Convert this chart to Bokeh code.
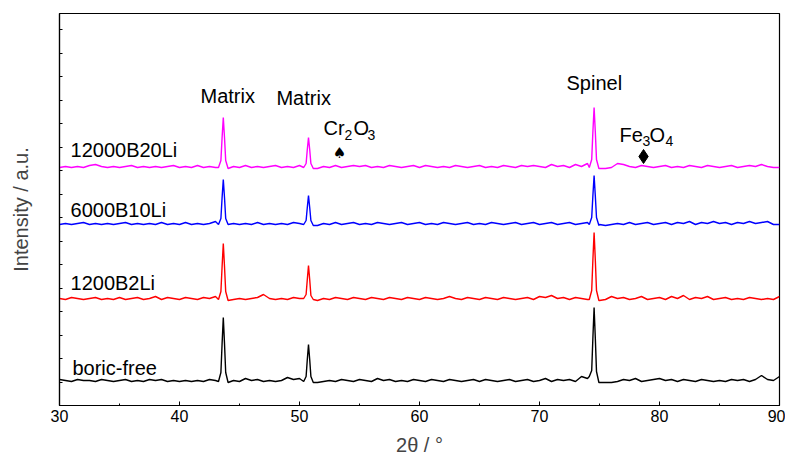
import numpy as np
from bokeh.plotting import figure
from bokeh.models import Range1d, FixedTicker
from bokeh.core.properties import value
from bokeh.embed import file_html
from bokeh.resources import INLINE

FONT = "Liberation Sans"

# ---------------- data ----------------
two_theta_start = 30.0
two_theta_step = 0.5
peak_centers = [43.65, 50.75, 74.55]
peak_offsets = [-0.4, -0.2, -0.1, 0.0, 0.1, 0.2, 0.4]

sample_names = ["boric-free", "1200B2Li", "6000B10Li", "12000B20Li"]
sample_colors = ["#000000", "#FF0000", "#0000FF", "#FF00FF"]
baselines = [23, 105, 180, 237]   # vertical offset of each pattern (a.u.)

black_noise = [3, 2, 1, 3, 2, 2, 1, 3, 2, 1,
               2, 3, 1, 2, 1, 3, 2, 3, 1, 2,
               1, 2, 1, 2, 1, 3, 2, 0, 0, 2,
               1, 4, 2, 3, 1, 2, 1, 2, 5, 3,
               4, 1, 0, 0, 1, 2, 1, 3, 2, 1,
               3, 2, 1, 4, 2, 3, 1, 2, 1, 3,
               2, 1, 3, 2, 1, 3, 2, 1, 2, 3,
               1, 3, 2, 1, 2, 3, 1, 2, 3, 1,
               2, 4, 1, 3, 2, 3, 1, 6, 4, 0,
               0, 0, 0, 1, 3, 2, 4, 1, 2, 3,
               4, 2, 3, 1, 3, 2, 1, 3, 2, 1,
               2, 1, 3, 2, 3, 1, 3, 7, 3, 2,
               6]
red_noise = [2, 1, 3, 2, 1, 2, 3, 1, 2, 1,
             3, 1, 2, 3, 1, 2, 4, 1, 3, 2,
             1, 3, 2, 1, 3, 2, 4, 1, 0, 1,
             2, 1, 2, 3, 6, 2, 1, 2, 1, 3,
             2, 3, 0, 0, 2, 1, 3, 2, 1, 3,
             2, 1, 3, 2, 1, 3, 2, 1, 3, 2,
             1, 3, 2, 1, 2, 4, 2, 1, 3, 2,
             1, 3, 2, 1, 3, 2, 1, 2, 3, 1,
             4, 3, 5, 2, 3, 1, 3, 2, 1, 0,
             0, 1, 4, 2, 3, 1, 2, 4, 1, 2,
             3, 1, 4, 2, 5, 1, 3, 2, 4, 1,
             2, 3, 1, 2, 1, 3, 2, 1, 2, 1,
             4]
blue_noise = [1, 2, 1, 2, 3, 1, 2, 1, 2, 1,
              2, 3, 1, 2, 1, 2, 1, 3, 1, 2,
              1, 3, 1, 2, 1, 2, 4, 1, 0, 2,
              1, 2, 1, 3, 1, 2, 1, 2, 1, 3,
              2, 1, 0, 0, 2, 1, 3, 1, 2, 3,
              1, 2, 1, 3, 2, 1, 2, 3, 1, 2,
              3, 1, 2, 1, 3, 2, 1, 2, 3, 1,
              2, 1, 3, 2, 1, 2, 3, 1, 2, 3,
              1, 2, 3, 1, 2, 3, 1, 2, 3, 2,
              1, 0, 1, 2, 1, 3, 1, 2, 3, 1,
              2, 3, 1, 3, 2, 4, 1, 3, 2, 4,
              2, 3, 1, 3, 2, 4, 2, 3, 4, 1,
              1]
magenta_noise = [1, 2, 1, 2, 1, 3, 4, 2, 1, 2,
                 1, 2, 3, 1, 2, 1, 2, 1, 2, 3,
                 1, 2, 1, 3, 1, 2, 1, 2, 0, 2,
                 1, 3, 1, 2, 1, 2, 3, 1, 2, 1,
                 3, 2, 0, 0, 2, 1, 3, 1, 2, 3,
                 2, 3, 1, 2, 1, 3, 2, 1, 2, 3,
                 1, 3, 2, 1, 2, 1, 3, 2, 1, 2,
                 3, 1, 2, 1, 3, 2, 1, 3, 2, 3,
                 2, 1, 4, 2, 3, 1, 4, 2, 5, 2,
                 0, 0, 1, 5, 4, 2, 1, 3, 2, 1,
                 2, 3, 1, 2, 1, 3, 2, 1, 3, 2,
                 1, 2, 3, 1, 2, 3, 2, 4, 2, 1,
                 1]
noises = [black_noise, red_noise, blue_noise, magenta_noise]

# peak profiles (intensity above baseline at peak_offsets) for the three peaks
black_peaks = [[1, 10, 39, 65, 39, 10, 0], [1, 6, 23, 38, 23, 6, 0], [6, 12, 45, 75, 45, 11, 0]]
red_peaks = [[1, 9, 34, 57, 34, 9, 0], [2, 6, 21, 35, 21, 5, 1], [1, 10, 41, 68, 41, 10, 0]]
blue_peaks = [[1, 7, 28, 46, 28, 7, 1], [1, 5, 18, 30, 18, 5, 0], [1, 8, 30, 50, 30, 8, 0]]
magenta_peaks = [[1, 8, 31, 51, 31, 8, 0], [1, 5, 19, 31, 19, 5, 0], [1, 9, 37, 61, 37, 9, 0]]
peaks = [black_peaks, red_peaks, blue_peaks, magenta_peaks]

x_ticks = [30, 40, 50, 60, 70, 80, 90]
x_minor = [35, 45, 55, 65, 75, 85]
y_ticks = [23.5 * k for k in range(1, 17)]

# ---------------- figure ----------------
p = figure(width=785, height=459, output_backend="svg", toolbar_location=None,
           x_range=Range1d(30, 90), y_range=Range1d(0, 392),
           min_border_left=59, min_border_right=6, min_border_top=13, min_border_bottom=54)
p.background_fill_color = "white"
p.border_fill_color = "white"
p.outline_line_color = "black"
p.outline_line_width = 1.2
p.xgrid.visible = False
p.ygrid.visible = False

for noise, pk, base, color in zip(noises, peaks, baselines, sample_colors):
    grid_x = two_theta_start + two_theta_step * np.arange(len(noise))
    pts = [(gx, n) for gx, n in zip(grid_x, noise)
           if all(abs(gx - c) > 0.45 for c in peak_centers)]
    for c, prof in zip(peak_centers, pk):
        pts += [(c + o, v) for o, v in zip(peak_offsets, prof)]
    pts.sort()
    xs = [a for a, _ in pts]
    ys = [base + b for _, b in pts]
    p.line(xs, ys, line_color=color, line_width=1.4)

# axes
xa = p.xaxis[0]
xa.ticker = FixedTicker(ticks=x_ticks, minor_ticks=x_minor)
xa.major_tick_in = 4
xa.major_tick_out = 0
xa.minor_tick_in = 2
xa.minor_tick_out = 0
xa.axis_line_width = 1.2
xa.major_label_text_font = FONT
xa.major_label_text_font_size = "16px"
xa.major_label_text_color = "black"
xa.major_label_standoff = 4
xa.axis_label = "2θ / °"
xa.axis_label_text_font = FONT
xa.axis_label_text_font_size = "20px"
xa.axis_label_text_font_style = "normal"
xa.axis_label_standoff = 9

ya = p.yaxis[0]
ya.ticker = FixedTicker(ticks=y_ticks, minor_ticks=[])
ya.major_tick_in = 3
ya.major_tick_out = 0
ya.major_label_overrides = {t: "" for t in y_ticks}
ya.major_label_standoff = 0
ya.axis_line_width = 1.2
ya.axis_label = "Intensity / a.u."
ya.axis_label_text_font = FONT
ya.axis_label_text_font_size = "20px"
ya.axis_label_text_font_style = "normal"
ya.axis_label_standoff = 28

TXT_UP = 8  # baseline correction for alphabetic text placement

# sample labels
label_x = [31.08, 30.92, 30.92, 30.92]
label_y = [30 + TXT_UP, 115 + TXT_UP, 188 + TXT_UP, 248 + TXT_UP]
p.text(x=label_x, y=label_y, text=sample_names, text_font=value(FONT),
       text_font_size="20px", text_color="black", text_baseline="alphabetic",
       text_align="left")

# phase labels
p.text(x=[41.75, 48.08, 72.25], y=[302 + TXT_UP, 300 + TXT_UP, 315 + TXT_UP],
       text=["Matrix", "Matrix", "Spinel"],
       text_font=value(FONT), text_font_size="20px", text_color="black",
       text_baseline="alphabetic", text_align="left")
# Cr2O3 and Fe3O4 with subscripts
p.text(x=[52.0, 54.5, 76.67, 79.17], y=[270 + TXT_UP, 270 + TXT_UP, 263 + TXT_UP, 263 + TXT_UP],
       text=["Cr", "O", "Fe", "O"],
       text_font=value(FONT), text_font_size="20px", text_color="black",
       text_baseline="alphabetic", text_align="left")
p.text(x=[53.75, 55.67, 78.58, 80.5], y=[263 + TXT_UP, 263 + TXT_UP, 257 + TXT_UP, 257 + TXT_UP],
       text=["2", "3", "3", "4"],
       text_font=value(FONT), text_font_size="14px", text_color="black",
       text_baseline="alphabetic", text_align="left")
# markers
p.text(x=[53.33], y=[253], text=["♠"], text_font=value("DejaVu Sans"),
       text_font_size="15px", text_color="black", text_baseline="middle", text_align="center")
p.scatter(x=[78.67], y=[249], marker="diamond", size=14, fill_color="black", line_color="black")

open("out.html", "w").write(file_html(p, INLINE))
